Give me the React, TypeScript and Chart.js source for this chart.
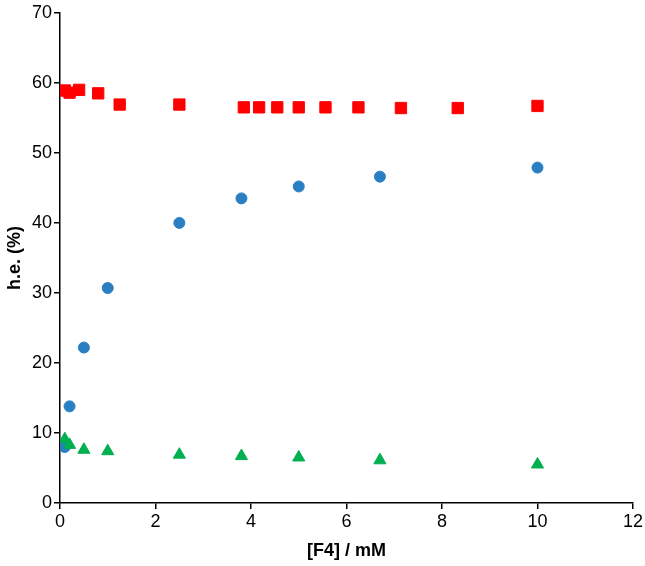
import React, { useEffect, useRef } from "react";
import { Chart, registerables } from "chart.js";

Chart.register(...registerables);

const blueX = [0.1, 0.2, 0.5, 1, 2.5, 3.8, 5, 6.7, 10];
const blueY = [8.0, 13.8, 22.2, 30.7, 40.0, 43.5, 45.2, 46.6, 47.9];
const greenX = [0.1, 0.2, 0.5, 1, 2.5, 3.8, 5, 6.7, 10];
const greenY = [9.1, 8.3, 7.6, 7.4, 6.9, 6.7, 6.5, 6.1, 5.5];
const redX = [0.1, 0.2, 0.4, 0.8, 1.25, 2.5, 3.85, 4.17, 4.55, 5, 5.56, 6.25, 7.14, 8.33, 10];
const redY = [58.9, 58.6, 59.0, 58.5, 56.9, 56.9, 56.5, 56.5, 56.5, 56.5, 56.5, 56.5, 56.4, 56.4, 56.7];

const xTicks = [0, 2, 4, 6, 8, 10, 12];
const yTicks = [0, 10, 20, 30, 40, 50, 60, 70];

const pts = (xs: number[], ys: number[]) => xs.map((x, i) => ({ x, y: ys[i] }));

export default function App() {
  const ref = useRef<HTMLCanvasElement | null>(null);
  useEffect(() => {
    document.body.style.margin = "0";
    const ctx = ref.current!;
    const font = { family: "'Liberation Sans', Arial, sans-serif", size: 18 };
    const chart = new Chart(ctx, {
      type: "scatter",
      data: {
        datasets: [
          {
            label: "green",
            data: pts(greenX, greenY),
            pointStyle: "triangle",
            pointRadius: 7,
            backgroundColor: "#00B050",
            borderColor: "#00B050",
            borderWidth: 1,
          },
          {
            label: "blue",
            data: pts(blueX, blueY),
            pointStyle: "circle",
            pointRadius: 5.5,
            backgroundColor: "#2A7FC2",
            borderColor: "#2A7FC2",
            borderWidth: 1,
          },
          {
            label: "red",
            data: pts(redX, redY),
            pointStyle: "rect",
            pointRadius: 8,
            backgroundColor: "#FF0000",
            borderColor: "#FF0000",
            borderWidth: 1,
          },
        ],
      },
      options: {
        responsive: false,
        animation: false,
        layout: { padding: { top: 8, right: 10, left: 0, bottom: 0 } },
        plugins: { legend: { display: false }, tooltip: { enabled: false } },
        scales: {
          x: {
            type: "linear",
            min: 0,
            max: 12,
            afterBuildTicks: (s: any) => {
              s.ticks = xTicks.map((v) => ({ value: v }));
            },
            afterFit: (s: any) => {
              s.height = 63;
            },
            border: { display: true, color: "#000", width: 1.5 },
            grid: { display: true, drawOnChartArea: false, drawTicks: true, tickLength: 6, color: "#000", lineWidth: 1.5 },
            ticks: { color: "#000", font, padding: 2, maxRotation: 0 },
            title: { display: true, text: "[F4] / mM", color: "#000", font: { ...font, weight: "bold" }, padding: { top: 2 } },
          },
          y: {
            type: "linear",
            min: 0,
            max: 70,
            afterBuildTicks: (s: any) => {
              s.ticks = yTicks.map((v) => ({ value: v }));
            },
            afterFit: (s: any) => {
              s.width = 60;
            },
            border: { display: true, color: "#000", width: 1.5 },
            grid: { display: true, drawOnChartArea: false, drawTicks: true, tickLength: 6, color: "#000", lineWidth: 1.5 },
            ticks: { color: "#000", font, padding: 2 },
            title: { display: true, text: "h.e. (%)", color: "#000", font: { ...font, weight: "bold" }, padding: { bottom: 0 } },
          },
        },
      },
    } as any);
    return () => chart.destroy();
  }, []);
  return (
    <div style={{ position: "absolute", left: 0, top: 0, width: 645, height: 566, background: "#fff" }}>
      <canvas ref={ref} width={645} height={566} />
    </div>
  );
}
